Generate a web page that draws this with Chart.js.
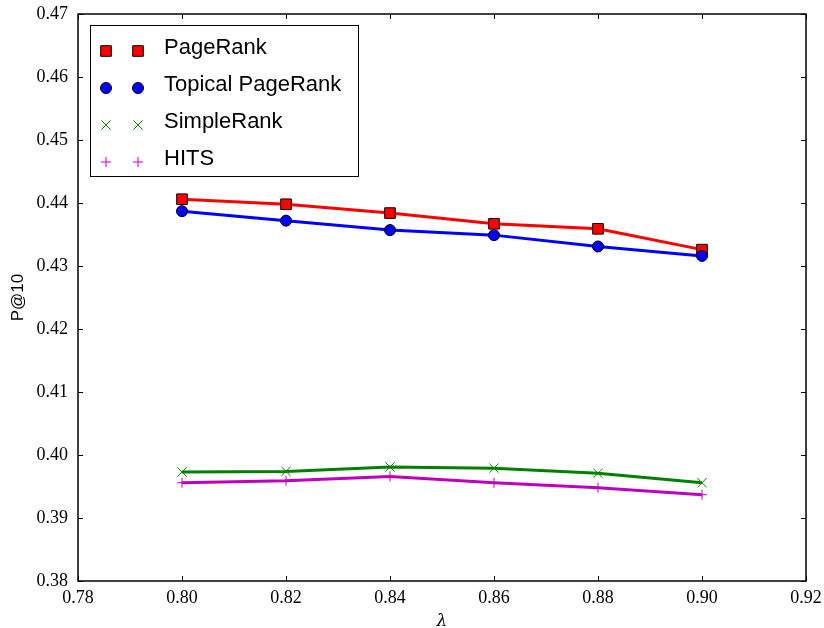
<!DOCTYPE html>
<html>
<head>
<meta charset="utf-8">
<script src="https://cdn.jsdelivr.net/npm/chart.js@4/dist/chart.umd.min.js"></script>
<style>
html,body{margin:0;padding:0;background:#fff;}
#wrap{width:824px;height:628px;}
</style>
</head>
<body>
<div id="wrap"><canvas id="c" width="824" height="628"></canvas></div>
<script>
const lambdas = [0.80, 0.82, 0.84, 0.86, 0.88, 0.90];
const pageRank = [0.4406, 0.4398, 0.4384, 0.4367, 0.4359, 0.4326];
const topicalPageRank = [0.4387, 0.4372, 0.4357, 0.4349, 0.4331, 0.4316];
const simpleRank = [0.3973, 0.3974, 0.3981, 0.3979, 0.3971, 0.3956];
const hits = [0.3956, 0.3959, 0.3966, 0.3956, 0.3948, 0.3937];
const seriesNames = ['PageRank', 'Topical PageRank', 'SimpleRank', 'HITS'];
const xTicks = [0.78, 0.80, 0.82, 0.84, 0.86, 0.88, 0.90, 0.92];
const yTicks = [0.38, 0.39, 0.40, 0.41, 0.42, 0.43, 0.44, 0.45, 0.46, 0.47];

const toPts = arr => arr.map((v, i) => ({x: lambdas[i], y: v}));

const styles = [
  {color: '#ff0000', pointStyle: 'rect', radius: 7.5, fill: '#ff0000', edge: '#000000'},
  {color: '#0000ff', pointStyle: 'circle', radius: 5.5, fill: '#0000ff', edge: '#000000'},
  {color: '#008000', pointStyle: 'crossRot', radius: 6.5, fill: '#008000', edge: '#008000'},
  {color: '#bf00bf', pointStyle: 'cross', radius: 5, fill: '#bf00bf', edge: '#bf00bf'}
];
const seriesData = [pageRank, topicalPageRank, simpleRank, hits];

const datasets = seriesData.map((d, i) => ({
  label: seriesNames[i],
  data: toPts(d),
  borderColor: styles[i].color,
  borderWidth: 3,
  pointStyle: styles[i].pointStyle,
  pointRadius: styles[i].radius,
  pointHoverRadius: styles[i].radius,
  pointBackgroundColor: styles[i].fill,
  pointBorderColor: styles[i].edge,
  pointBorderWidth: 1,
  tension: 0,
  fill: false,
  order: 4 - i
}));

const frame = {
  id: 'frame',
  afterDatasetsDraw(chart) {
    const ctx = chart.ctx;
    const a = chart.chartArea;
    const xs = chart.scales.x, ys = chart.scales.y;
    ctx.save();
    ctx.strokeStyle = '#000';
    ctx.lineWidth = 1;
    ctx.beginPath();
    xTicks.forEach(t => {
      const px = Math.round(xs.getPixelForValue(t)) + 0.5;
      ctx.moveTo(px, a.bottom); ctx.lineTo(px, a.bottom - 5);
      ctx.moveTo(px, a.top); ctx.lineTo(px, a.top + 5);
    });
    yTicks.forEach(t => {
      const py = Math.round(ys.getPixelForValue(t)) + 0.5;
      ctx.moveTo(a.left, py); ctx.lineTo(a.left + 5, py);
      ctx.moveTo(a.right, py); ctx.lineTo(a.right - 5, py);
    });
    ctx.stroke();
    ctx.lineWidth = 1.5;
    ctx.strokeRect(a.left, a.top, a.right - a.left, a.bottom - a.top);

    // legend
    const lx = 90.5, ly = 25.5, lw = 268, lh = 151;
    ctx.fillStyle = '#fff';
    ctx.fillRect(lx, ly, lw, lh);
    ctx.lineWidth = 1;
    ctx.strokeStyle = '#000';
    ctx.strokeRect(lx, ly, lw, lh);
    const rows = [48, 85, 122, 159];
    ctx.font = '22px "Liberation Sans", Arial, sans-serif';
    ctx.textBaseline = 'middle';
    ctx.textAlign = 'left';
    chart.data.datasets.forEach((ds, i) => {
      const y = rows[i];
      [106, 138].forEach(x => {
        ctx.save();
        ctx.fillStyle = ds.pointBackgroundColor;
        ctx.strokeStyle = ds.pointBorderColor;
        ctx.lineWidth = 1;
        Chart.helpers.drawPoint(ctx, {pointStyle: ds.pointStyle, radius: ds.pointRadius, rotation: 0, borderWidth: 1}, x, y + 3);
        ctx.restore();
      });
      ctx.fillStyle = '#000';
      ctx.fillText(ds.label, 164, y);
    });
    ctx.restore();
  }
};

new Chart(document.getElementById('c'), {
  type: 'line',
  data: {datasets},
  plugins: [frame],
  options: {
    responsive: false,
    animation: false,
    events: [],
    layout: {padding: {top: 14, right: 18, bottom: 0, left: 0}},
    plugins: {legend: {display: false}, tooltip: {enabled: false}},
    scales: {
      x: {
        type: 'linear',
        min: 0.78, max: 0.92,
        afterBuildTicks: s => { s.ticks = xTicks.map(v => ({value: v})); },
        afterFit: s => { s.height = 47; s.paddingLeft = 0; s.paddingRight = 0; },
        grid: {display: false, drawTicks: false},
        border: {display: false},
        ticks: {
          padding: 6,
          color: '#000',
          maxRotation: 0,
          autoSkip: false,
          font: {family: '"Liberation Serif", "DejaVu Serif", serif', size: 18},
          callback: v => Number(v).toFixed(2)
        },
        title: {
          display: true,
          text: 'λ',
          color: '#000',
          padding: {top: 0, bottom: -4},
          font: {family: '"DejaVu Serif", serif', size: 17, style: 'italic'}
        }
      },
      y: {
        type: 'linear',
        min: 0.38, max: 0.47,
        afterBuildTicks: s => { s.ticks = yTicks.map(v => ({value: v})); },
        afterFit: s => { s.width = 78; s.paddingTop = 0; s.paddingBottom = 0; },
        grid: {display: false, drawTicks: false},
        border: {display: false},
        ticks: {
          padding: 10,
          color: '#000',
          autoSkip: false,
          font: {family: '"Liberation Serif", "DejaVu Serif", serif', size: 18},
          callback: v => Number(v).toFixed(2)
        },
        title: {
          display: true,
          text: 'P@10',
          color: '#000',
          padding: {top: 8, bottom: 0},
          font: {family: '"Liberation Sans", Arial, sans-serif', size: 17}
        }
      }
    }
  }
});
</script>
</body>
</html>
